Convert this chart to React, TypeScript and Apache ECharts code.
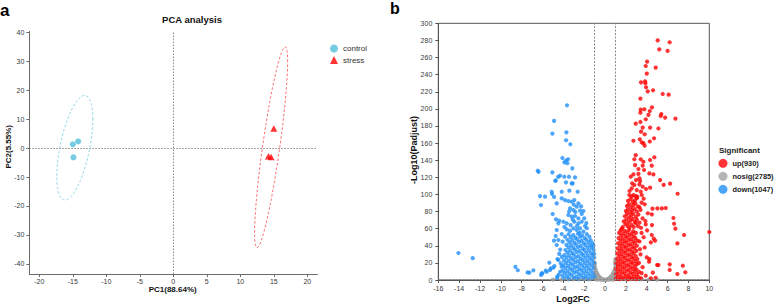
import React, { useEffect, useRef } from "react";
import * as echarts from "echarts";

const FONT = "'Liberation Sans', Arial, Helvetica, sans-serif";

// ---------- Panel a: PCA ----------
const pcaGroups = ["control", "stress"];
const controlPts: number[][] = [[-15.0, 1.3], [-14.2, 2.3], [-14.9, -3.2]];
const stressPts: number[][] = [[15.0, 6.8], [14.2, -2.8], [14.6, -3.1]];
const pcaXTicks = [-20, -15, -10, -5, 0, 5, 10, 15, 20];
const pcaYTicks = [-40, -30, -20, -10, 0, 10, 20, 30, 40];
const F_95_2_2 = 19; // qf(0.95, 2, n-1) for n = 3 samples

// ---------- Panel b: volcano ----------
const volcanoNames = ["up(930)", "nosig(2785)", "down(1047)"];

const downPts: number[][] = [
  // far outliers
  [-14.07, 31.5], [-12.7, 25.5], [-8.6, 15.4], [-8.37, 11.4], [-7.44, 8.8], [-7.27, 8.6],
  [-6.88, 11.3], [-6.14, 5.8], [-6.01, 7.8], [-5.69, 10.9], [-5.21, 13.6], [-4.86, 16.4],
  [-4.57, 24.5], [-4.6, 2.3], [-5.35, 20.2], [-4.48, 23.4], [-4.96, 14.4], [-5.28, 11.7],
  [-5.6, 9.7], [-6.08, 7.8], [-4.58, 3.9], [-4.16, 15.6], [-4.3, 9.7], [-4.45, 6.2],
  [-4.25, 19.5], [-4.4, 30.5], [-4.15, 27], [-4.3, 35.5],
  // upper part
  [-3.65, 204.2], [-4.89, 185.9], [-5.05, 171.1], [-3.71, 172.6], [-3.74, 163.3], [-3.33, 158.6],
  [-4.09, 142.6], [-3.55, 141.1], [-3.9, 137.5], [-3.62, 136.5], [-3.75, 139.5], [-3.14, 130.5],
  [-6.46, 127.7], [-6.38, 126.4], [-5.06, 125.8], [-4.32, 121.9], [-3.91, 120.7], [-3.46, 120.7],
  [-2.88, 119.9], [-4.74, 116.0], [-3.75, 114.1], [-3.2, 112.9], [-5.12, 103.2], [-5.08, 100.5],
  [-4.16, 103.2], [-3.43, 104.4], [-2.63, 103.2], [-4.5, 120.5], [-3.1, 113], [-4.77, 116.1],
  // middle part
  [-6.24, 98.1], [-5.76, 97.4], [-6.15, 87.6], [-4.64, 89.6], [-4.89, 97], [-4.16, 95.4],
  [-3.84, 93.4], [-3.52, 92.3], [-3.2, 91.5], [-2.95, 93.4], [-2.56, 89.6], [-3.36, 83.7],
  [-3.04, 81.8], [-2.72, 85.7], [-2.4, 81], [-2.08, 80.6], [-5.03, 77.1], [-3.52, 76],
  [-3.2, 74], [-2.88, 74.8], [-2.56, 72.0], [-2.24, 77.1], [-4.7, 70.9], [-4.39, 69.3],
  [-4.0, 68.1], [-3.68, 66.2], [-4.48, 66.2], [-3.3, 64.2], [-2.95, 68.1], [-2.56, 66.2],
  [-2.24, 68.1], [-1.92, 63.1], [-4.64, 58.4], [-3.68, 59.2], [-3.36, 57.6], [-3.04, 60.4],
  [-2.72, 58.4], [-2.4, 60.4], [-2.08, 56.5], [-4.74, 51.4], [-4.16, 53.7], [-3.84, 50.6],
  [-4.9, 46.0], [-4.48, 46.7], [-4.64, 40.9], [-4.07, 44.8], [-3.1, 70.5], [-2.7, 63],
  [-2.0, 72], [-3.45, 80], [-2.85, 79.5], [-1.8, 66.5], [-3.9, 62], [-2.3, 86], [-3.0, 88],
  [-1.75, 60.5], [-2.45, 55],
  // dense cloud
  [-3.5, 53.5], [-3.05, 52.5], [-2.6, 54], [-2.2, 52], [-1.75, 53.5],
  [-3.3, 50], [-2.85, 49.5], [-2.4, 50.5], [-1.95, 49], [-1.5, 50.5],
  [-3.6, 47], [-3.15, 46.5], [-2.7, 47.5], [-2.25, 46], [-1.8, 47], [-1.38, 46.5],
  [-3.4, 44], [-2.95, 43.5], [-2.5, 44.5], [-2.05, 43], [-1.6, 44], [-1.2, 43],
  [-3.7, 41], [-3.25, 40.5], [-2.8, 41.5], [-2.35, 40], [-1.9, 41], [-1.45, 40.5], [-1.12, 40],
  [-3.5, 38], [-3.05, 37.5], [-2.6, 38.5], [-2.15, 37], [-1.7, 38], [-1.28, 37.5],
  [-3.8, 35], [-3.35, 34.5], [-2.9, 35.5], [-2.45, 34], [-2.0, 35], [-1.55, 34.5], [-1.1, 35],
  [-3.6, 32], [-3.15, 31.5], [-2.7, 32.5], [-2.25, 31], [-1.8, 32], [-1.35, 31.5], [-1.05, 30.5],
  [-3.9, 29], [-3.45, 28.5], [-3.0, 29.5], [-2.55, 28], [-2.1, 29], [-1.65, 28.5], [-1.2, 29],
  [-3.7, 26], [-3.25, 25.5], [-2.8, 26.5], [-2.35, 25], [-1.9, 26], [-1.45, 25.5], [-1.04, 26],
  [-3.95, 23], [-3.5, 22.5], [-3.05, 23.5], [-2.6, 22], [-2.15, 23], [-1.7, 22.5], [-1.25, 23],
  [-3.75, 20], [-3.3, 19.5], [-2.85, 20.5], [-2.4, 19], [-1.95, 20], [-1.5, 19.5], [-1.05, 20],
  [-4.0, 17], [-3.55, 16.5], [-3.1, 17.5], [-2.65, 16], [-2.2, 17], [-1.75, 16.5], [-1.3, 17],
  [-3.8, 14], [-3.35, 13.5], [-2.9, 14.5], [-2.45, 13], [-2.0, 14], [-1.55, 13.5], [-1.1, 14],
  [-4.05, 11], [-3.6, 10.5], [-3.15, 11.5], [-2.7, 10], [-2.25, 11], [-1.8, 10.5], [-1.35, 11],
  [-3.85, 8], [-3.4, 7.5], [-2.95, 8.5], [-2.5, 7], [-2.05, 8], [-1.6, 7.5], [-1.15, 8],
  [-4.1, 5], [-3.65, 4.5], [-3.2, 5.5], [-2.75, 4], [-2.3, 5], [-1.85, 4.5], [-1.4, 5], [-1.03, 4.5],
  [-3.9, 2], [-3.45, 1.6], [-3.0, 2.4], [-2.55, 1.5], [-2.1, 2.2], [-1.65, 1.7], [-1.2, 2],
];

const upPts: number[][] = [
  // upper part
  [5.05, 280.1], [6.2, 277.8], [5.2, 269.6], [6.0, 267.7], [4.03, 255.2], [3.9, 250.1],
  [4.86, 248.2], [4.0, 241.2], [3.45, 231.0], [3.84, 232.2], [3.87, 229.9], [3.93, 225.2],
  [4.09, 220.5], [4.6, 221.7], [5.53, 217.4], [6.1, 216.6], [3.39, 212.0], [3.42, 199.1],
  [3.77, 199.5], [4.5, 201.8], [4.29, 197.5], [3.39, 195.6], [4.16, 192.9], [5.4, 194.0],
  [5.34, 191.7], [5.76, 189.8], [6.75, 188.6], [3.9, 187.8], [2.94, 182.7], [3.39, 184.7],
  [5.12, 177.1], [3.61, 178.1], [4.32, 178.1], [3.45, 173.4], [3.8, 170.3], [3.33, 164.4],
  [4.7, 165.6], [2.72, 162.7], [3.52, 160.7], [3.68, 159.9], [4.29, 161.9], [3.8, 156.9],
  [2.94, 145.9], [2.81, 141.1], [3.42, 141.1], [4.73, 143.4], [4.32, 140.3],
  // 100 - 140
  [3.68, 138.2], [2.88, 134.3], [3.2, 129.7], [3.61, 133.6], [4.48, 133.6], [3.74, 128.5],
  [2.72, 123.4], [2.46, 120.7], [3.3, 118.8], [2.97, 116.8], [3.36, 115.6], [4.25, 124.6],
  [4.64, 123.4], [2.81, 111], [3.3, 111.7], [3.61, 109], [2.56, 107.1], [3.04, 105.1],
  [3.42, 103.2], [3.93, 106.3], [4.32, 107.9], [2.33, 99.3], [2.72, 99.3], [3.1, 97.3],
  [3.52, 99.3], [5.28, 116.8], [5.62, 111.2], [6.24, 112.6], [6.96, 100.8], [4.55, 83.4],
  [5.02, 83.7], [5.45, 83.7], [5.82, 84.1], [2.35, 104], [2.6, 113], [3.2, 124],
  // 60 - 100
  [1.7, 62], [1.95, 65.5], [2.15, 63], [2.35, 61.5], [2.55, 64.5], [2.75, 62], [2.95, 66.5],
  [3.15, 63], [1.8, 68.5], [2.05, 70.5], [2.25, 67], [2.45, 69.5], [2.65, 71.5], [2.85, 68],
  [3.05, 70.5], [3.3, 67], [1.9, 74.5], [2.1, 77], [2.3, 73], [2.5, 75.5], [2.7, 77.5],
  [2.95, 74], [3.2, 76.5], [2.0, 80.5], [2.2, 82.5], [2.4, 79], [2.6, 81.5], [2.85, 83],
  [3.05, 80], [3.4, 82], [2.1, 86.5], [2.3, 88.5], [2.5, 85], [2.7, 87.5], [2.9, 89.5],
  [3.15, 86], [2.2, 92.5], [2.45, 94.5], [2.65, 91], [2.85, 93], [3.05, 95.5], [2.55, 97.5],
  [2.95, 98], [3.6, 72], [3.8, 88.5], [3.5, 90.5], [1.6, 60], [3.9, 65], [4.1, 78], [3.7, 95],
  [3.45, 61], [3.3, 85],
  // sparse outer points 0 - 80
  [4.0, 26.5], [4.25, 24.5], [5.0, 17.5], [6.2, 18.3], [6.2, 11.7], [6.94, 7], [7.7, 9],
  [7.46, 16.7], [6.94, 42.8], [7.58, 52.6], [10, 56.1], [6.75, 60], [6.62, 65.8], [6.56, 72.5],
  [4.48, 76.7], [4.5, 64.2], [4.48, 52.6], [4.39, 44], [4.22, 21.4], [5.11, 17.5], [4.58, 8.6],
  [3.87, 69], [4.03, 58], [4.8, 46], [4.67, 48.3], [3.4, 30], [3.6, 15], [3.3, 45], [3.5, 55],
  [3.8, 38], [3.25, 20], [3.9, 5], [4.4, 2], [3.5, 8], [3.35, 36], [3.7, 50], [4.85, 2.5], [3.45, 2],
  // dense cloud
  [1.5, 58], [1.9, 57.5], [2.3, 58.5], [2.7, 57],
  [1.35, 55], [1.75, 54.5], [2.15, 55.5], [2.55, 54], [2.95, 55],
  [1.55, 52], [1.95, 51.5], [2.35, 52.5], [2.75, 51],
  [1.3, 49], [1.7, 48.5], [2.1, 49.5], [2.5, 48], [2.9, 49],
  [1.5, 46], [1.9, 45.5], [2.3, 46.5], [2.7, 45], [3.1, 46],
  [1.25, 43], [1.65, 42.5], [2.05, 43.5], [2.45, 42], [2.85, 43],
  [1.45, 40], [1.85, 39.5], [2.25, 40.5], [2.65, 39], [3.05, 40],
  [1.2, 37], [1.6, 36.5], [2.0, 37.5], [2.4, 36], [2.8, 37],
  [1.4, 34], [1.8, 33.5], [2.2, 34.5], [2.6, 33], [3.0, 34],
  [1.15, 31], [1.55, 30.5], [1.95, 31.5], [2.35, 30], [2.75, 31],
  [1.35, 28], [1.75, 27.5], [2.15, 28.5], [2.55, 27], [2.95, 28],
  [1.1, 25], [1.5, 24.5], [1.9, 25.5], [2.3, 24], [2.7, 25], [3.1, 24.5],
  [1.3, 22], [1.7, 21.5], [2.1, 22.5], [2.5, 21], [2.9, 22],
  [1.08, 19], [1.45, 18.5], [1.85, 19.5], [2.25, 18], [2.65, 19], [3.05, 18.5],
  [1.25, 16], [1.65, 15.5], [2.05, 16.5], [2.45, 15], [2.85, 16],
  [1.05, 13], [1.45, 12.5], [1.85, 13.5], [2.25, 12], [2.65, 13], [3.0, 12.5],
  [1.25, 10], [1.65, 9.5], [2.05, 10.5], [2.45, 9], [2.85, 10], [3.25, 9.5],
  [1.05, 7], [1.45, 6.5], [1.85, 7.5], [2.25, 6], [2.65, 7], [3.05, 6.5],
  [1.2, 4], [1.6, 3.5], [2.0, 4.5], [2.4, 3], [2.8, 4], [3.2, 3.5],
  [1.02, 1.5], [1.4, 1.2], [1.8, 1.8], [2.2, 1], [2.6, 1.6], [3.0, 1.2],
];

const nosigPts: number[][] = [
  [-1.0, 18], [-0.98, 20], [-0.97, 15.5], [-0.93, 13], [-0.88, 11], [-0.83, 9.2], [-0.78, 7.8],
  [-0.72, 6.4], [-0.66, 5.2], [-0.6, 4.2], [-0.54, 3.3], [-0.48, 2.6], [-0.42, 2.0], [-0.36, 1.5],
  [-0.3, 1.1], [-0.24, 0.8], [-0.18, 0.5], [-0.12, 0.3], [-0.06, 0.15], [0, 0.1],
  [0.06, 0.2], [0.12, 0.35], [0.18, 0.55], [0.24, 0.85], [0.3, 1.2], [0.36, 1.6], [0.42, 2.1],
  [0.48, 2.7], [0.54, 3.4], [0.6, 4.3], [0.66, 5.3], [0.72, 6.5], [0.78, 7.9], [0.84, 9.4],
  [0.9, 11.2], [0.95, 13.5], [1.0, 16], [0.98, 19], [0.98, 24], [0.95, 21],
  [-0.95, 8], [-0.9, 5], [-0.85, 3], [-0.8, 1.5], [-0.7, 2.5], [-0.6, 1.2], [-0.5, 0.6],
  [-0.95, 3], [-0.9, 1], [-0.75, 0.5], [0.95, 8], [0.9, 5], [0.85, 3], [0.8, 1.5], [0.7, 2.5],
  [0.6, 1.2], [0.5, 0.6], [0.95, 3], [0.9, 1], [0.75, 0.5], [-0.35, 0.3], [0.35, 0.3],
  [-3.5, 0.8], [-3, 1], [-2.5, 0.6], [-2, 0.9], [-1.5, 0.7], [1.5, 0.8], [2, 0.6], [2.5, 1],
  [3, 0.7], [3.5, 0.9], [-4.2, 0.5], [4.2, 0.6], [-5, 0.4], [5, 0.5],
];

const COLORS = {
  control: "#52BEDA",
  controlEllipse: "#7FD0E4",
  stress: "#FF0000",
  stressEllipse: "#FF5A5A",
  up: "#FF0000",
  nosig: "#A3A3A3",
  down: "#2090F8",
};

function confidenceEllipse(pts: number[][]): number[][] {
  const n = pts.length;
  const mx = pts.reduce((s, p) => s + p[0], 0) / n;
  const my = pts.reduce((s, p) => s + p[1], 0) / n;
  let sxx = 0, syy = 0, sxy = 0;
  pts.forEach((p) => {
    sxx += (p[0] - mx) * (p[0] - mx);
    syy += (p[1] - my) * (p[1] - my);
    sxy += (p[0] - mx) * (p[1] - my);
  });
  sxx /= n - 1; syy /= n - 1; sxy /= n - 1;
  const l11 = Math.sqrt(sxx);
  const l21 = sxy / l11;
  const l22 = Math.sqrt(Math.max(syy - l21 * l21, 0));
  const k = Math.sqrt(2 * F_95_2_2);
  const out: number[][] = [];
  const steps = 160;
  for (let i = 0; i <= steps; i++) {
    const t = (i / steps) * Math.PI * 2;
    const c = Math.cos(t), s = Math.sin(t);
    out.push([mx + k * l11 * c, my + k * (l21 * c + l22 * s)]);
  }
  return out;
}

function text(x: number, y: number, s: string, size: number, bold: boolean, opts: any = {}) {
  return {
    type: "text",
    x,
    y,
    rotation: opts.rotation || 0,
    silent: true,
    style: {
      text: s,
      fill: opts.fill || "#111",
      fontSize: size,
      fontWeight: bold ? "bold" : "normal",
      fontFamily: FONT,
      align: opts.align || "center",
      verticalAlign: "middle",
      textAlign: opts.align || "center",
      textVerticalAlign: "middle",
    },
  };
}

const axisLineStyle = { color: "#6b6b6b", width: 1 };
const labelStyle = { fontSize: 7, color: "#3a3a3a", fontFamily: FONT };

export default function App() {
  const ref = useRef<HTMLDivElement>(null);
  useEffect(() => {
    if (!ref.current) return;
    const chart = echarts.init(ref.current, null, { renderer: "svg" });
    const option: any = {
      animation: false,
      textStyle: { fontFamily: FONT },
      grid: [
        { left: 29.3, right: 776 - 317.3, top: 31.5, bottom: 306 - 274 },
        {
          left: 438.3, right: 776 - 709.3, top: 23.3, bottom: 306 - 280,
          show: true, borderColor: "#555", borderWidth: 1, backgroundColor: "transparent",
        },
      ],
      xAxis: [
        {
          gridIndex: 0, type: "value", min: -21.49, max: 21.49,
          axisLine: { show: true, onZero: false, lineStyle: axisLineStyle },
          axisTick: { show: true, length: 3, customValues: pcaXTicks, lineStyle: axisLineStyle },
          axisLabel: { ...labelStyle, margin: 4, customValues: pcaXTicks },
          splitLine: { show: false },
        },
        {
          gridIndex: 1, type: "value", min: -16, max: 10, interval: 2,
          axisLine: { show: true, onZero: false, lineStyle: { color: "#555" } },
          axisTick: { show: true, length: 3, lineStyle: { color: "#555" } },
          axisLabel: { ...labelStyle, margin: 5 },
          splitLine: { show: false },
        },
      ],
      yAxis: [
        {
          gridIndex: 0, type: "value", min: -43.5, max: 40.3,
          axisLine: { show: true, onZero: false, lineStyle: axisLineStyle },
          axisTick: { show: true, length: 3, customValues: pcaYTicks, lineStyle: axisLineStyle },
          axisLabel: { ...labelStyle, margin: 5, customValues: pcaYTicks },
          splitLine: { show: false },
        },
        {
          gridIndex: 1, type: "value", min: 0, max: 300, interval: 20,
          axisLine: { show: true, onZero: false, lineStyle: { color: "#555" } },
          axisTick: { show: true, length: 3, lineStyle: { color: "#555" } },
          axisLabel: { ...labelStyle, margin: 6 },
          splitLine: { show: false },
        },
      ],
      legend: [
        {
          data: [
            { name: pcaGroups[0], icon: "circle" },
            { name: pcaGroups[1], icon: "triangle" },
          ],
          orient: "vertical", left: 325, top: 39.5, itemWidth: 8, itemHeight: 8, itemGap: 3.6,
          selectedMode: false,
          textStyle: { fontSize: 8, color: "#333", fontFamily: FONT },
        },
        {
          data: volcanoNames.map((n) => ({ name: n, icon: "circle" })),
          orient: "vertical", left: 718.5, top: 158.8, itemWidth: 9, itemHeight: 9, itemGap: 4,
          selectedMode: false, padding: 0,
          textStyle: { fontSize: 7.4, fontWeight: "bold", color: "#222", fontFamily: FONT },
        },
      ],
      graphic: [
        text(0, 10, "a", 17, true, { align: "left", fill: "#000" }),
        text(390, 8, "b", 16, true, { align: "left", fill: "#000" }),
        text(192, 19, "PCA analysis", 9.5, true),
        text(172.7, 289.5, "PC1(88.64%)", 8, true),
        text(8.5, 146.8, "PC2(5.55%)", 8, true, { rotation: Math.PI / 2 }),
        text(573, 299, "Log2FC", 9, true),
        text(413.5, 150, "-Log10(Padjust)", 9, true, { rotation: Math.PI / 2 }),
        text(719, 150.5, "Significant", 8, true, { align: "left", fill: "#222" }),
      ],
      series: [
        {
          name: "controlEllipse", type: "line", xAxisIndex: 0, yAxisIndex: 0,
          data: confidenceEllipse(controlPts), showSymbol: false, symbol: "none", silent: true,
          lineStyle: { color: COLORS.controlEllipse, width: 0.9, type: [2.5, 2] },
        },
        {
          name: "stressEllipse", type: "line", xAxisIndex: 0, yAxisIndex: 0,
          data: confidenceEllipse(stressPts), showSymbol: false, symbol: "none", silent: true,
          lineStyle: { color: COLORS.stressEllipse, width: 0.9, type: [2.5, 2] },
        },
        {
          name: pcaGroups[0], type: "scatter", xAxisIndex: 0, yAxisIndex: 0,
          data: controlPts, symbol: "circle", symbolSize: 6,
          itemStyle: { color: COLORS.control },
          markLine: {
            silent: true, symbol: ["none", "none"], label: { show: false },
            lineStyle: { color: "#8a8a8a", type: [1.5, 1.5], width: 1 },
            data: [{ xAxis: 0 }, { yAxis: 0 }],
          },
        },
        {
          name: pcaGroups[1], type: "scatter", xAxisIndex: 0, yAxisIndex: 0,
          data: stressPts, symbol: "triangle", symbolSize: [7, 6.5],
          itemStyle: { color: COLORS.stress },
        },
        {
          name: volcanoNames[1], type: "scatter", xAxisIndex: 1, yAxisIndex: 1,
          data: nosigPts, symbol: "circle", symbolSize: 4.2,
          itemStyle: { color: COLORS.nosig },
          markLine: {
            silent: true, symbol: ["none", "none"], label: { show: false },
            lineStyle: { color: "#8a8a8a", type: [2, 1.5], width: 1 },
            data: [{ xAxis: -1 }, { xAxis: 1 }, { yAxis: 1.3 }],
          },
        },
        {
          name: volcanoNames[0], type: "scatter", xAxisIndex: 1, yAxisIndex: 1,
          data: upPts, symbol: "circle", symbolSize: 4.2,
          itemStyle: { color: COLORS.up },
        },
        {
          name: volcanoNames[2], type: "scatter", xAxisIndex: 1, yAxisIndex: 1,
          data: downPts, symbol: "circle", symbolSize: 4.2,
          itemStyle: { color: COLORS.down },
        },
      ],
    };
    chart.setOption(option);
    return () => chart.dispose();
  }, []);
  return (
    <div
      ref={ref}
      style={{ position: "absolute", left: 0, top: 0, width: 776, height: 306 }}
    />
  );
}
